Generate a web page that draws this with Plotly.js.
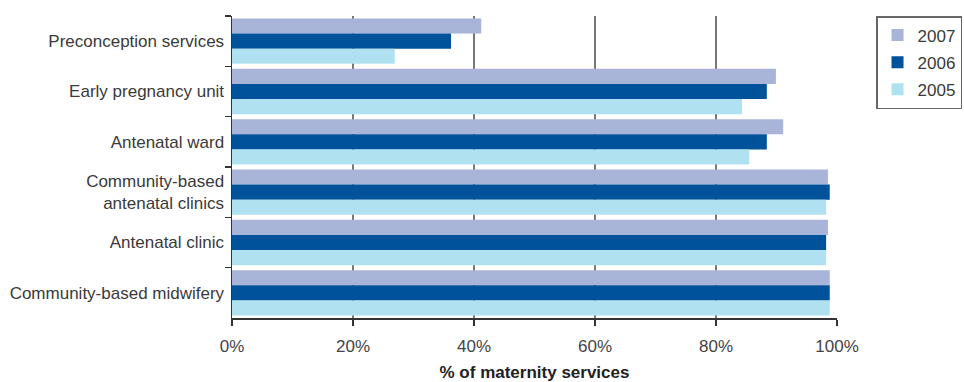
<!DOCTYPE html>
<html>
<head>
<meta charset="utf-8">
<script src="https://cdn.plot.ly/plotly-3.0.1.min.js"></script>
<style>html,body{margin:0;padding:0;background:#fff;}#chart{width:964px;height:382px;}</style>
</head>
<body>
<div id="chart"></div>
<script>
const categories = [
  "Preconception services",
  "Early pregnancy unit",
  "Antenatal ward",
  "Community-based<br>antenatal clinics",
  "Antenatal clinic",
  "Community-based midwifery"
];
const years = ["2007", "2006", "2005"];
const values2007 = [41.2, 89.9, 91.1, 98.5, 98.5, 98.8];
const values2006 = [36.2, 88.4, 88.4, 98.8, 98.2, 98.8];
const values2005 = [26.9, 84.3, 85.5, 98.2, 98.2, 98.8];
const xTickVals = [0, 20, 40, 60, 80, 100];
const xTickText = ["0%", "20%", "40%", "60%", "80%", "100%"];

const colors = ["#a8b4d8", "#00529b", "#b0e1f0"];
const series = [values2007, values2006, values2005];

const traces = series.map((vals, i) => ({
  type: "bar",
  orientation: "h",
  name: years[i],
  x: vals,
  y: categories,
  legendgroup: years[i],
  marker: {color: colors[i], line: {width: 0}},
  hoverinfo: "x+y+name"
}));

const font = {family: "Liberation Sans, Arial, Helvetica, sans-serif", size: 17, color: "#3a3a3a"};

const layout = {
  width: 964, height: 382,
  margin: {l: 232, r: 127, t: 16, b: 64, pad: 0, autoexpand: false},
  paper_bgcolor: "#ffffff",
  plot_bgcolor: "#ffffff",
  font: font,
  barmode: "group",
  bargap: 0.1,
  bargroupgap: 0,
  xaxis: {
    range: [0, 100],
    tickvals: xTickVals,
    ticktext: xTickText,
    showgrid: true,
    gridcolor: "#777777",
    gridwidth: 1.5,
    zeroline: false,
    showline: true,
    linecolor: "#333333",
    linewidth: 1.5,
    ticks: "outside",
    ticklen: 6,
    tickwidth: 1.5,
    tickcolor: "#333333",
    ticklabelstandoff: 6,
    tickfont: {size: 17, color: "#444444"},
    title: {text: "<b>% of maternity services</b>", font: {size: 17, color: "#222222"}, standoff: 14},
    automargin: false,
    fixedrange: true
  },
  yaxis: {
    type: "category",
    autorange: "reversed",
    showgrid: false,
    zeroline: false,
    showline: true,
    linecolor: "#333333",
    linewidth: 1.5,
    ticks: "outside",
    tickson: "boundaries",
    ticklen: 6,
    tickwidth: 1.5,
    tickcolor: "#333333",
    ticklabelstandoff: 3,
    tickfont: {size: 17, color: "#3a3a3a"},
    automargin: false,
    fixedrange: true
  },
  legend: {
    x: 1.0645, xanchor: "left",
    y: 1.0, yanchor: "top",
    bordercolor: "#666666",
    borderwidth: 1.5,
    bgcolor: "#ffffff",
    traceorder: "grouped",
    tracegroupgap: 2,
    font: {size: 17, color: "#3a3a3a"},
    itemwidth: 30
  },
  showlegend: true
};

Plotly.newPlot("chart", traces, layout, {displayModeBar: false, staticPlot: true});
</script>
</body>
</html>
